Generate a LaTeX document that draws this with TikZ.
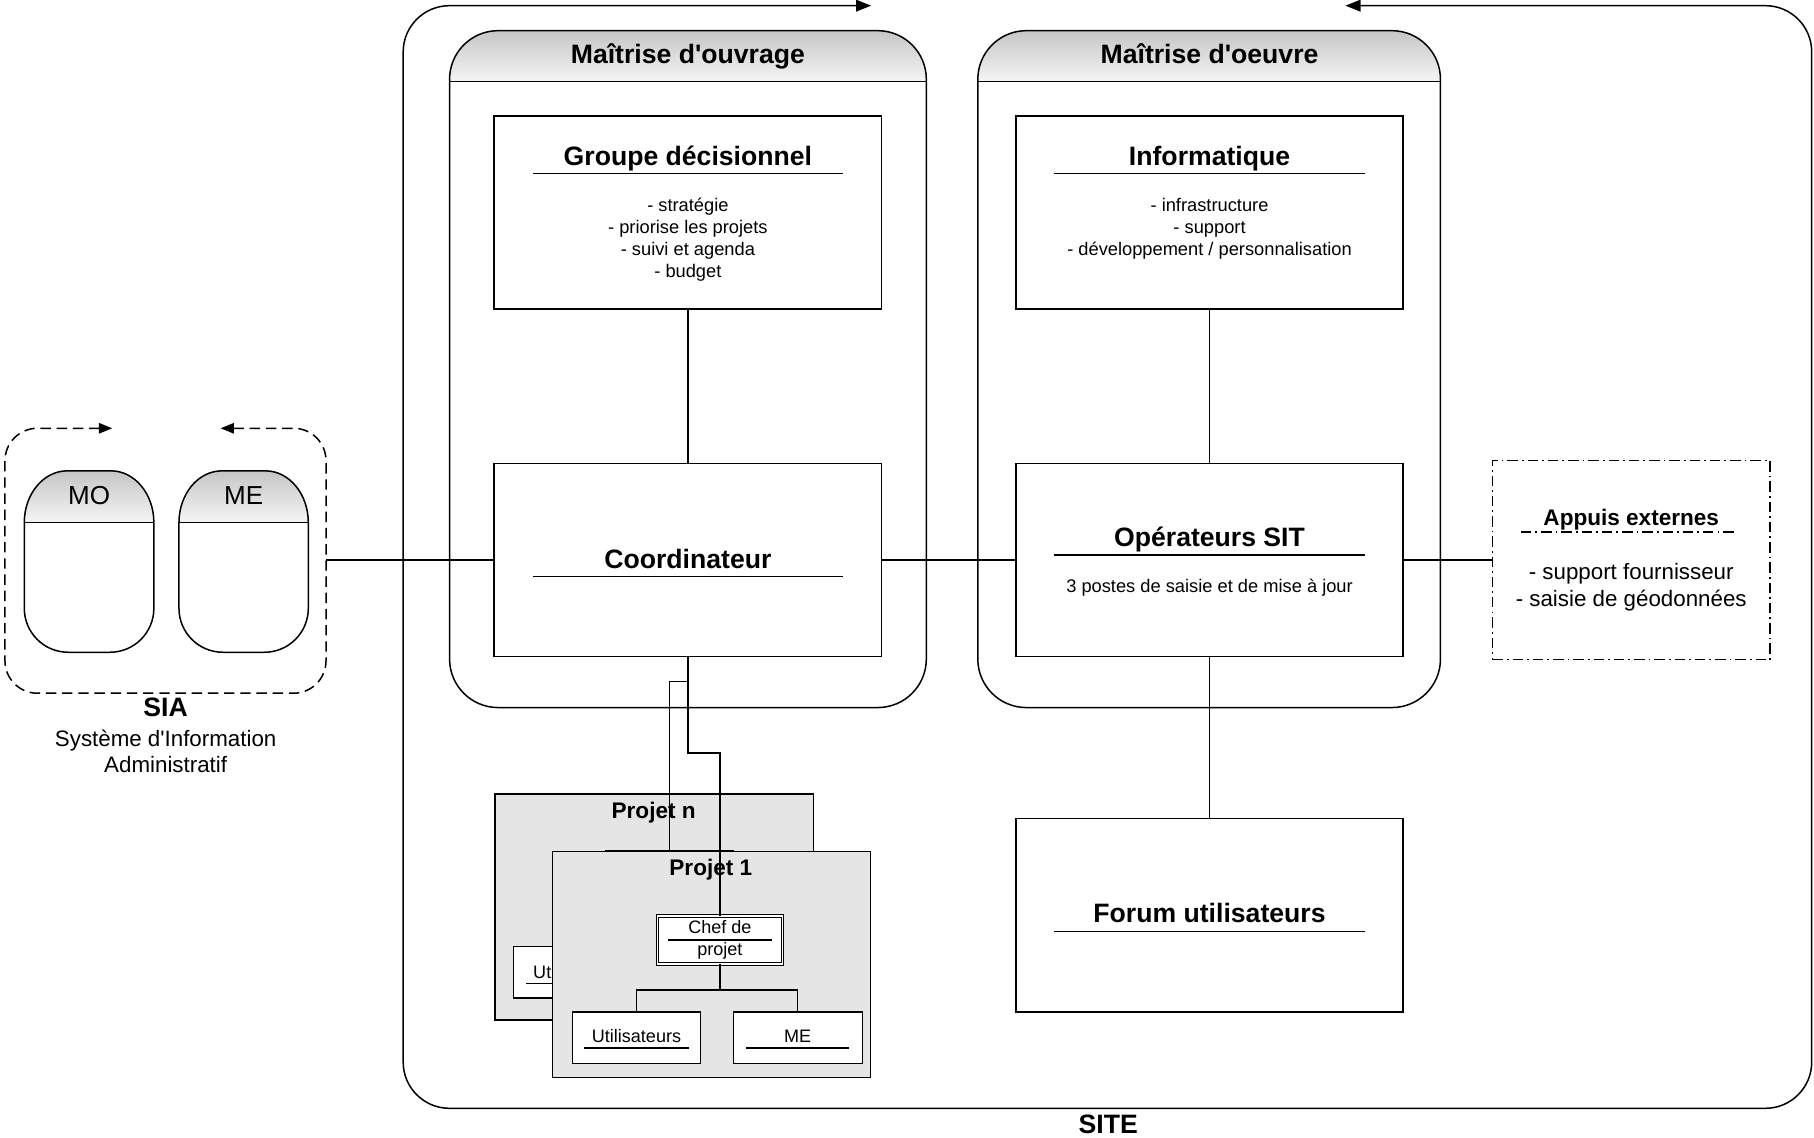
\documentclass[tikz,border=0pt]{standalone}
\usepackage{fontspec}
\setmainfont{Liberation Sans}[Ligatures=TeXOff]
\usetikzlibrary{arrows.meta}
\tikzset{
  ln/.style={line width=1.3pt},
  box/.style={draw, fill=white, line width=1.4pt, inner sep=0pt, outer sep=0pt},
  pbox/.style={draw, fill=gray!20, line width=1.3pt, inner sep=0pt, outer sep=0pt},
  sbox/.style={draw, fill=white, line width=1.2pt, inner sep=0pt, outer sep=0pt},
  dbox/.style={draw, fill=white, double=white, double distance=1.4pt, line width=0.9pt, inner sep=0pt, outer sep=0pt},
  tbig/.style={font=\fontsize{23}{27}\selectfont\bfseries, inner sep=0pt, anchor=base},
  tmid/.style={font=\fontsize{19.5}{23}\selectfont\bfseries, inner sep=0pt, anchor=base},
  tbody/.style={font=\fontsize{15.8}{19}\selectfont, inner sep=0pt, anchor=base},
  tsmall/.style={font=\fontsize{15.6}{18}\selectfont, inner sep=0pt, anchor=base},
  tsub/.style={font=\fontsize{19.3}{23}\selectfont, inner sep=0pt, anchor=base},
  tmo/.style={font=\fontsize{22.5}{26}\selectfont, inner sep=0pt, anchor=base},
  ul/.style={line width=1.3pt},
  tipA/.tip={Triangle[length=13pt,width=10pt]},
  tipB/.tip={Triangle[length=11.5pt,width=9pt]},
  hdr/.style={top color=gray!45, bottom color=gray!8},
}
\begin{document}
\begin{tikzpicture}[x=1pt,y=-1pt]
\useasboundingbox (0,0) rectangle (1568,983);

% SITE frame
\draw[ln, tipA-tipA, rounded corners=40pt] (1163,4.9) -- (1566,4.9) -- (1566,958) -- (348.5,958) -- (348.5,4.9) -- (753,4.9);
\node[tbig] (site) at (958,979.5) {SITE};

% Maitrise d'ouvrage container
\begin{scope}
\clip[rounded corners=42pt] (594,26.5) -- (800.7,26.5) -- (800.7,611.6) -- (388.6,611.6) -- (388.6,26.5) -- cycle;
\shade[hdr] (388.6,26.5) rectangle (800.7,70.6);
\end{scope}
\draw[ln, rounded corners=42pt] (594,26.5) -- (800.7,26.5) -- (800.7,611.6) -- (388.6,611.6) -- (388.6,26.5) -- cycle;
\draw[ln] (388.6,70.6) -- (800.7,70.6);
\node[tbig] (moa) at (594.6,55) {Maîtrise d'ouvrage};

% Maitrise d'oeuvre container
\begin{scope}
\clip[rounded corners=42pt] (1045,26.5) -- (1245.1,26.5) -- (1245.1,611.6) -- (845.2,611.6) -- (845.2,26.5) -- cycle;
\shade[hdr] (845.2,26.5) rectangle (1245.1,70.6);
\end{scope}
\draw[ln, rounded corners=42pt] (1045,26.5) -- (1245.1,26.5) -- (1245.1,611.6) -- (845.2,611.6) -- (845.2,26.5) -- cycle;
\draw[ln] (845.2,70.6) -- (1245.1,70.6);
\node[tbig] (moe) at (1045.5,55) {Maîtrise d'oeuvre};

% Inner boxes
\node[box, minimum width=334.8, minimum height=167] (gd) at (594.6,183.5) {};
\node[box, minimum width=334.8, minimum height=167] (info) at (1045.5,183.5) {};
\node[box, minimum width=334.8, minimum height=167] (coord) at (594.6,484.1) {};
\node[box, minimum width=334.8, minimum height=167] (oper) at (1045.5,484.1) {};
\node[box, minimum width=334.8, minimum height=167] (forum) at (1045.5,791) {};

% Groupe decisionnel
\node[tbig] (gdt) at (594.6,143) {Groupe décisionnel};
\draw[ul] (460.5,150) -- (728.7,150);
\node[tbody] (gd1) at (594.6,182.4) {- stratégie};
\node[tbody] (gd2) at (594.6,201.4) {- priorise les projets};
\node[tbody] (gd3) at (594.6,220.6) {- suivi et agenda};
\node[tbody] (gd4) at (594.6,239.8) {- budget};

% Informatique
\node[tbig] (infot) at (1045.5,143) {Informatique};
\draw[ul] (911,150) -- (1180,150);
\node[tbody] (inf1) at (1045.5,182.4) {- infrastructure};
\node[tbody] (inf2) at (1045.5,201.4) {- support};
\node[tbody] (inf3) at (1045.5,220.6) {- développement / personnalisation};

% Coordinateur
\node[tbig] (coordt) at (594.6,491.2) {Coordinateur};
\draw[ul] (460.5,498.4) -- (728.7,498.4);

% Operateurs SIT
\node[tbig] (opert) at (1045.5,472) {Opérateurs SIT};
\draw[ul] (911,479.7) -- (1180,479.7);
\node[tbody] (oper1) at (1045.5,511.8) {3 postes de saisie et de mise à jour};

% Forum
\node[tbig] (forumt) at (1045.5,797.5) {Forum utilisateurs};
\draw[ul] (911,805) -- (1180,805);

% Appuis externes
\node[draw, line width=1.3pt, dash pattern=on 9pt off 3.5pt on 1.5pt off 3.5pt, minimum width=240, minimum height=172, inner sep=0pt, outer sep=0pt] (app) at (1410,484.1) {};
\node[tmid] (appt) at (1410,454.6) {Appuis externes};
\draw[ul, dash pattern=on 9pt off 3.5pt on 1.5pt off 3.5pt] (1314.6,459.8) -- (1500,459.8);
\node[tsub] (app1) at (1410,500.8) {- support fournisseur};
\node[tsub] (app2) at (1410,524) {- saisie de géodonnées};

% SIA
\draw[ln, dash pattern=on 9pt off 5pt, tipB-tipB, rounded corners=28pt] (190.7,370.2) -- (281.8,370.2) -- (281.8,599.2) -- (4.3,599.2) -- (4.3,370.2) -- (97,370.2);
\coordinate (siaR) at (281.8,484.1);
% MO capsule
\begin{scope}
\clip (21,451.7) .. controls (21,427) and (37.6,407) .. (58,407) -- (96,407) .. controls (116.4,407) and (133,427) .. (133,451.7) -- cycle;
\shade[hdr] (21,407) rectangle (133,451.7);
\end{scope}
\draw[ln] (21,451.7) .. controls (21,427) and (37.6,407) .. (58,407) -- (96,407) .. controls (116.4,407) and (133,427) .. (133,451.7) -- (133,525.8) .. controls (133,546.8) and (116,563.8) .. (95,563.8) -- (59,563.8) .. controls (38,563.8) and (21,546.8) .. (21,525.8) -- cycle;
\draw[ln] (21,451.7) -- (133,451.7);
\node[tmo] (mo) at (77,436.5) {MO};
% ME capsule
\begin{scope}
\clip (154.7,451.7) .. controls (154.7,427) and (171.3,407) .. (191.7,407) -- (229.5,407) .. controls (249.9,407) and (266.5,427) .. (266.5,451.7) -- cycle;
\shade[hdr] (154.7,407) rectangle (266.5,451.7);
\end{scope}
\draw[ln] (154.7,451.7) .. controls (154.7,427) and (171.3,407) .. (191.7,407) -- (229.5,407) .. controls (249.9,407) and (266.5,427) .. (266.5,451.7) -- (266.5,525.8) .. controls (266.5,546.8) and (249.5,563.8) .. (228.5,563.8) -- (192.7,563.8) .. controls (171.7,563.8) and (154.7,546.8) .. (154.7,525.8) -- cycle;
\draw[ln] (154.7,451.7) -- (266.5,451.7);
\node[tmo] (me) at (210.6,436.5) {ME};
\node[tbig] (sia) at (143.2,619.4) {SIA};
\node[tsub] (sia1) at (143.2,645.3) {Système d'Information};
\node[tsub] (sia2) at (143.2,667.5) {Administratif};

% Connectors
\draw[ln] (gd.south) -- (coord.north);
\draw[ln] (info.south) -- (oper.north);
\draw[ln] (oper.south) -- (forum.north);
\draw[ln] (siaR) -- (coord.west);
\draw[ln] (coord.east) -- (oper.west);
\draw[ln] (oper.east) -- (app.west);

% Projet n
\node[pbox, minimum width=275.2, minimum height=195.1] (pn) at (565.4,784.05) {};
\node[tmid] (pnt) at (565,707.3) {Projet n};
\node[dbox, minimum width=108.3, minimum height=41.4] (chefn) at (578.75,757) {};
\node[sbox, minimum width=110.9, minimum height=44.4] (utiln) at (499.5,840.5) {};
\node[tsmall] (utilnt) at (499.5,845.6) {Utilisateurs};
\draw[ul] (454.5,849.9) -- (544.6,849.9);

% Projet 1
\node[pbox, minimum width=274.8, minimum height=195.3] (p1) at (615.1,833.75) {};
\node[tmid] (p1t) at (614.4,756.8) {Projet 1};
\node[dbox, minimum width=108.0, minimum height=41.4] (chef1) at (622.3,812.6) {};
\node[tsmall] (chef1a) at (622.3,807.3) {Chef de};
\draw[line width=1.1pt] (577.6,812.5) -- (667.2,812.5);
\node[tsmall] (chef1b) at (622.3,825.5) {projet};
\node[sbox, minimum width=110.9, minimum height=44.4] (util1) at (550.15,896.8) {};
\node[tsmall] (util1t) at (550.15,900.9) {Utilisateurs};
\draw[ul] (505,906) -- (595.2,906);
\node[sbox, minimum width=111.5, minimum height=44.4] (me1) at (689.55,896.8) {};
\node[tsmall] (me1t) at (689.55,900.9) {ME};
\draw[ul] (644.5,906) -- (734,906);
\coordinate (t1) at (622.3,855.7);
\draw[ln] (chef1.south) -- (t1) -| (util1.north);
\draw[ln] (t1) -| (me1.north);

% Coordinateur to projects
\coordinate (k1) at (594.6,651);
\coordinate (k2) at (594.6,589);
\draw[ln] (coord.south) -- (k1) -| (chef1.north);
\draw[ln] (k2) -| (chefn.north);
\end{tikzpicture}
\end{document}
